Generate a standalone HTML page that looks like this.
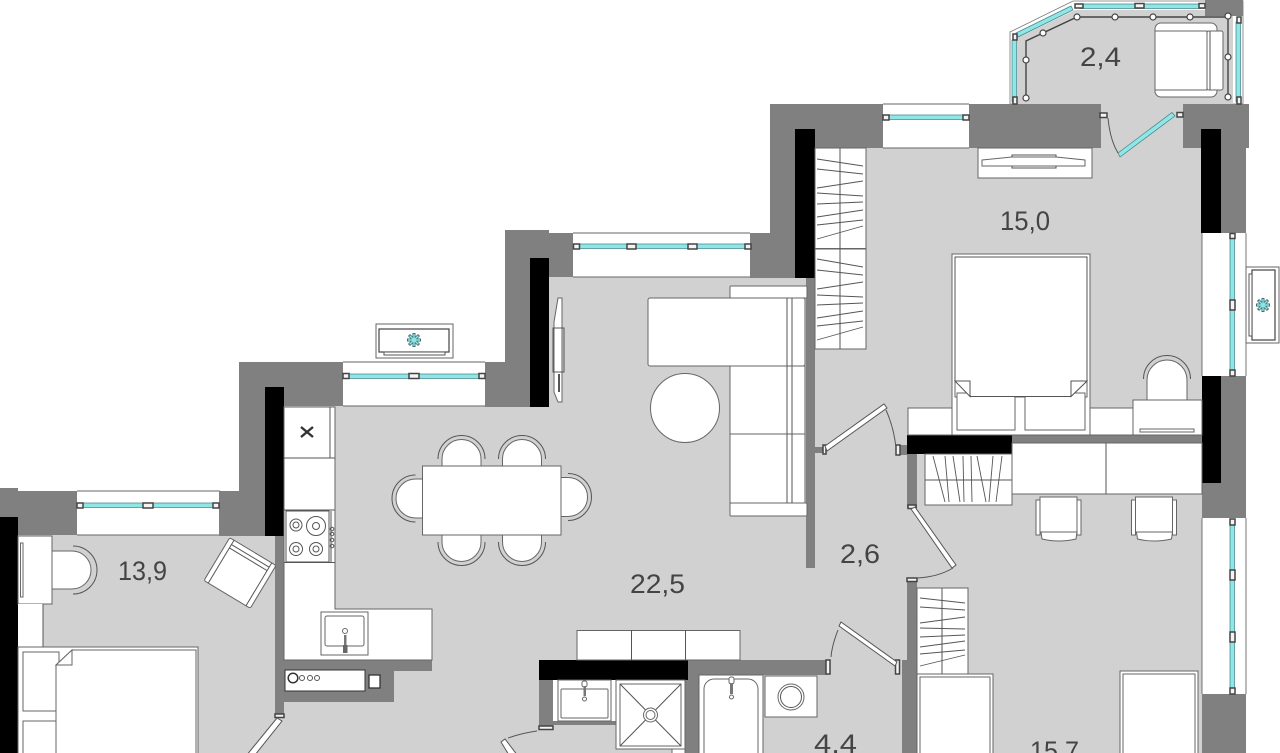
<!DOCTYPE html>
<html><head><meta charset="utf-8"><style>
html,body{margin:0;padding:0;background:#fff;width:1280px;height:753px;overflow:hidden}
svg{display:block}
text{font-family:"Liberation Sans",sans-serif;font-size:27px;fill:#444}
.f{fill:#fff;stroke:#666;stroke-width:1}
.g{fill:#808080}
.k{fill:#000}
.n{fill:none;stroke:#555;stroke-width:1}
.t{fill:#8fe6e6;stroke:#3f7f82;stroke-width:.7}
.h{fill:#f4f4f4;stroke:#444;stroke-width:1.5}
.d{fill:#fff;stroke:#555;stroke-width:1}
.tick{stroke:#555;stroke-width:.9;fill:none}
</style></head><body>
<svg width="1280" height="753" viewBox="0 0 1280 753" xmlns="http://www.w3.org/2000/svg">
<defs>
<g id="chair"><path class="f" d="M-19.5 0V-7a19.5 19.5 0 0 1 39 0V0Z"/><path class="n" d="M-23.5 -7a23.5 23.5 0 0 1 47 0"/></g>
<g id="flower"><g stroke="#3f6f72" stroke-width="3"><path d="M0-7V7M-7 0H7M-5-5L5 5M-5 5L5-5"/></g><g stroke="#8fe6e6" stroke-width="1.4"><path d="M0-6V6M-6 0H6M-4.3-4.3L4.3 4.3M-4.3 4.3L4.3-4.3"/></g></g>
<g id="dchair"><path class="f" d="M-23 3h4v35h-4zM18 3h4v35h-4z"/><path class="f" d="M-19 0H18V36H-19Z"/><path class="f" d="M-18 35H18L17 42Q0 46 -17 42Z"/></g>
<g id="wticks"><path class="tick" d="M817 159L863 166M817 169L863 174M817 188L863 181M817 193L863 196M817 204L863 202M817 217L863 210M817 225L863 220M817 239L863 226"/></g>
</defs>

<!-- floor -->
<path fill="#d1d1d1" d="M0 535H284V406H549V277H815V148H1202V753H0Z"/>
<!-- balcony floor -->
<path fill="#fff" stroke="#777" stroke-width=".8" d="M1010 104V32L1073 1H1243V104Z"/>
<path fill="#d1d1d1" d="M1017 104V38L1075 10H1233V104Z"/>
<rect x="1101" y="104" width="82" height="44" fill="#d1d1d1"/>

<!-- window whites -->
<g fill="#fff">
<rect x="77" y="491" width="143" height="44"/>
<rect x="343" y="362" width="142" height="44"/>
<rect x="573" y="233" width="177" height="44"/>
<rect x="883" y="104" width="86" height="44"/>
<rect x="1202" y="233" width="44" height="143"/>
<rect x="1202" y="518" width="44" height="176"/>
</g>
<path fill="none" stroke="#666" stroke-width=".9" d="M77 491H220M77 535H220M343 362H485M343 406H485M573 233H750M573 277H750M883 104H969M883 148H969M1202 233V376M1246 233V376M1202 518V694M1246 518V694"/>

<!-- walls -->
<g class="g">
<path d="M0 488H18V491H77V535H18V753H0Z"/>
<path d="M219 491H239V362H343V406H284V536H219Z"/>
<path d="M485 362H505V230H549V233H573V277H549V407H485Z"/>
<path d="M750 233H770V104H883V148H815V278H750Z"/>
<rect x="969" y="104" width="132" height="44"/>
<path d="M1183 104H1249V148H1246V233H1202V148H1183Z"/>
<path d="M1205 0H1243V16H1205Z"/>
<rect x="1202" y="376" width="44" height="142"/>
<rect x="1202" y="694" width="44" height="59"/>
<rect x="806" y="277" width="9" height="291"/>
<rect x="815" y="447" width="8" height="6"/>
<rect x="907" y="435" width="295" height="8"/>
<rect x="907" y="454" width="10" height="54"/>
<rect x="896" y="445" width="11" height="10"/>
<path d="M907 579H917V753H902V660H907Z"/>
<rect x="275" y="536" width="9" height="180"/>
<path d="M284 660H432V671H394V702H284Z"/>
<rect x="688" y="660" width="138" height="15"/>
<rect x="685" y="675" width="14" height="78"/>
<rect x="539" y="680" width="14" height="47"/>
<rect x="553" y="721" width="63" height="4"/>
</g>
<!-- black walls -->
<g class="k">
<rect x="0" y="517" width="18" height="236"/>
<rect x="265" y="387" width="19" height="149"/>
<rect x="530" y="258" width="19" height="149"/>
<rect x="795" y="129" width="20" height="149"/>
<rect x="1201" y="129" width="20" height="104"/>
<rect x="1202" y="376" width="19" height="107"/>
<rect x="907" y="435" width="105" height="19"/>
<rect x="539" y="660" width="149" height="20"/>
</g>

<!-- glazing -->
<g class="t">
<rect x="80" y="503" width="138" height="4.5"/>
<rect x="346" y="374" width="137" height="4.5"/>
<rect x="576" y="244" width="172" height="4.5"/>
<rect x="886" y="115" width="80" height="4.5"/>
<rect x="1230" y="236" width="4.5" height="138"/>
<rect x="1230" y="521" width="4.5" height="170"/>
<rect x="1012" y="40" width="4.5" height="62"/>
<path d="M1016 33L1071 6L1073 10L1018 37Z"/>
<rect x="1080" y="4" width="125" height="4.5"/>
<rect x="1236" y="22" width="4.5" height="80"/>
<path d="M1118 153L1172 112.500L1175 116L1120 157Z"/>
</g>
<g class="h">
<rect x="77" y="503" width="6" height="5"/><rect x="143" y="503" width="10" height="5"/><rect x="213" y="503" width="6" height="5"/>
<rect x="343" y="373.500" width="6" height="5"/><rect x="409" y="373.500" width="10" height="5"/><rect x="479" y="373.500" width="6" height="5"/>
<rect x="573.500" y="244" width="6" height="5"/><rect x="627" y="244" width="9" height="5"/><rect x="688" y="244" width="9" height="5"/><rect x="745" y="244" width="6" height="5"/>
<rect x="883" y="115" width="6" height="5"/><rect x="963" y="115" width="6" height="5"/>
<rect x="1230" y="233.500" width="5" height="5"/><rect x="1230" y="300" width="5" height="10"/><rect x="1230" y="370" width="5" height="6"/>
<rect x="1230" y="519" width="5" height="6"/><rect x="1230" y="570" width="5" height="10"/><rect x="1230" y="632" width="5" height="10"/><rect x="1230" y="688" width="5" height="6"/>
<rect x="1075" y="4" width="8" height="4"/><rect x="1135" y="3.500" width="9" height="4.500"/><rect x="1199" y="3.500" width="6" height="4.500"/>
<rect x="1013" y="34" width="4" height="6"/><rect x="1013" y="97" width="4" height="7"/><rect x="1237" y="17" width="4" height="6"/><rect x="1237" y="97" width="4" height="7"/>
<rect x="1100" y="113" width="7" height="4.500"/><rect x="1177" y="112.500" width="6" height="4.500"/><rect x="823" y="445" width="3" height="9"/>
<rect x="896" y="445" width="4" height="10"/>
<rect x="907" y="578" width="10" height="3.500"/><rect x="275" y="714" width="9" height="3.500"/>
<rect x="539" y="726" width="14" height="3.500"/><rect x="826" y="660" width="4" height="14"/><rect x="895.500" y="660" width="4" height="14"/>
<rect x="908" y="505" width="8" height="3.500"/>
</g>

<!-- balcony string lights -->
<path fill="none" stroke="#444" stroke-width="1.4" d="M1026 98V41L1077 17H1228V97"/>
<g fill="#fff" stroke="#444" stroke-width="1.2">
<circle cx="1026" cy="98" r="3"/><circle cx="1026" cy="60" r="3"/><circle cx="1043" cy="33" r="3"/><circle cx="1077" cy="17" r="3"/><circle cx="1115" cy="17" r="3"/><circle cx="1153" cy="17" r="3"/><circle cx="1190" cy="17" r="3"/><circle cx="1228" cy="16" r="3"/><circle cx="1228" cy="57" r="3"/><circle cx="1228" cy="97" r="3"/>
</g>
<!-- balcony armchair -->
<rect class="f" x="1155" y="23" width="62" height="74" rx="6"/>
<rect class="f" x="1207" y="31" width="16" height="59" rx="2"/>
<rect class="f" x="1155" y="31" width="52" height="59"/>
<path class="n" d="M1210 31V90"/>

<!-- doors -->
<path class="n" stroke-width=".8" d="M1108 118Q1110 140 1118 153"/>
<path class="n" d="M886 410Q894 428 896 448"/>
<path class="d" d="M825 446L884 404L887 408L827 451Z"/>
<path class="d" d="M911 509L915 507L956 565L952 568Z"/>
<path class="n" d="M917 578Q938 577 953 568"/>
<path class="d" d="M841 622L897 662L895 666L839 626Z"/>
<path class="n" d="M831 657Q832 645 838 630"/>
<path class="d" d="M277 718L282 721L251 760L246 756Z"/>
<path class="d" d="M501 742L505 739L518 756L512 760Z"/>
<path class="n" d="M508 738Q522 733 537 731"/>

<!-- top bedroom -->
<rect class="f" x="978" y="148" width="114" height="30"/>
<path class="f" d="M982 160L1012 157H1056L1085 160V166H982Z"/>
<path class="n" d="M1012 157V155H1056V157M1012 166V168H1056V166"/>
<rect class="f" x="815" y="148" width="51" height="100.500"/>
<rect class="f" x="815" y="249" width="51" height="100"/>
<path class="n" d="M840 148V349"/>
<use href="#wticks"/>
<path class="tick" d="M817 259L863 267M817 270L863 275M817 289L863 282M817 295L863 297M817 305L863 303M817 318L863 311M817 326L863 321M817 340L863 327"/>

<!-- bed -->
<rect class="f" x="908" y="408" width="44" height="27"/>
<rect class="f" x="1090" y="408" width="44" height="27"/>
<rect class="f" x="952" y="254" width="138" height="181"/>
<rect class="f" x="955" y="257" width="132" height="140" stroke-width=".6"/>
<rect class="f" x="957" y="393" width="58" height="37"/>
<rect class="f" x="1025" y="393" width="60" height="37"/>
<path fill="#fff" stroke="#555" d="M955 257H1087V381L1071 396.500H971L955 381Z"/>
<path fill="#fff" stroke="#555" d="M955 381H970V396.500ZM1087 381H1071V396.500Z"/>
<rect class="f" x="1133" y="400" width="69" height="35"/>
<rect class="f" x="1140" y="429" width="54" height="3"/>
<path class="f" d="M1147 400V380a20 20 0 0 1 40 0V400Z"/>
<path class="n" d="M1143.500 379a23.500 23.500 0 0 1 47 0"/>

<!-- desk and wardrobe -->
<rect class="f" x="925" y="454" width="87" height="51"/>
<path class="n" d="M925 480H1012"/>
<path class="tick" d="M933 456L945 502M945 456L949 502M953 456L960 502M963 456L964 502M971 456L972 502M977 456L986 502M993 456L989 502M1002 456L996 502"/>
<rect class="f" x="1012" y="443" width="190" height="51"/>
<path class="n" d="M1106 443V494"/>
<use href="#dchair" x="1059" y="497"/>
<use href="#dchair" x="1154.500" y="497"/>

<!-- AC right -->
<rect class="f" x="1246" y="267" width="33" height="76"/>
<rect x="1252" y="270" width="23" height="70" fill="#fff" stroke="#444" stroke-width="1.2"/>
<rect x="1249" y="274" width="3" height="62" fill="#fff" stroke="#555"/>
<use href="#flower" x="1263" y="305"/>
<!-- AC top -->
<rect class="f" x="376" y="324" width="77" height="34"/>
<rect x="379" y="329" width="70" height="23" fill="#fff" stroke="#444" stroke-width="1.2"/>
<rect x="384" y="352" width="61" height="3" fill="#fff" stroke="#555"/>
<use href="#flower" x="414" y="340"/>

<!-- TV living -->
<path class="f" d="M558 298H562V402H558L554 392V322Z"/>
<path class="n" d="M553 328V372H564V328Z"/>
<path stroke="#555" stroke-width="2" d="M559 374V392"/>

<!-- sofa -->
<rect class="f" x="730" y="286" width="77" height="12" rx="1"/>
<rect class="f" x="730" y="503" width="77" height="13" rx="1"/>
<rect class="f" x="648" y="298" width="157" height="68" rx="2"/>
<rect class="f" x="730" y="366" width="75" height="68"/>
<rect class="f" x="730" y="434" width="75" height="69"/>
<path class="n" d="M787 298V503M792 298V503"/>
<circle class="f" cx="685" cy="408" r="34.500"/>

<!-- table -->
<use href="#chair" transform="translate(461.500 466)"/>
<use href="#chair" transform="translate(522 466)"/>
<use href="#chair" transform="translate(461.500 535) rotate(180)"/>
<use href="#chair" transform="translate(522 535) rotate(180)"/>
<use href="#chair" transform="translate(422.500 498.500) rotate(-90)"/>
<use href="#chair" transform="translate(561 497) rotate(90)"/>
<rect class="f" x="422.500" y="466" width="138.500" height="69"/>

<!-- kitchen -->
<path class="f" d="M284 407H335V609H432V660H284Z"/>
<path class="n" d="M284 458H335M284 510H335M330 407V458M286 511H329V562H286ZM331 511V562M284 562.500H335"/>
<path stroke="#333" stroke-width="2.400" d="M301 427L313 437M313 427L301 437" fill="none"/>
<g class="n" stroke-width=".9">
<circle cx="296" cy="525" r="6"/><circle cx="296" cy="525" r="3"/>
<circle cx="316" cy="526" r="9.500"/><circle cx="316" cy="526" r="3.500"/>
<circle cx="296" cy="549" r="6.500"/><circle cx="296" cy="549" r="3"/>
<circle cx="316" cy="549" r="6.500"/><circle cx="316" cy="549" r="3"/>
<circle cx="332" cy="529" r="1.800"/><circle cx="332" cy="534" r="1.800"/><circle cx="332" cy="540" r="1.800"/><circle cx="332" cy="546" r="1.800"/>
</g>
<rect class="f" x="321" y="612" width="47" height="43"/>
<rect class="f" x="325" y="616" width="39" height="30" rx="2"/>
<circle class="f" cx="345" cy="631" r="2.500"/>
<rect x="344" y="635" width="2.500" height="18" fill="#777"/>
<rect x="343" y="645" width="4.500" height="8" fill="#666"/>
<rect x="285" y="670" width="80" height="21" fill="#fff" stroke="#333"/>
<circle cx="293" cy="678" r="4.800" fill="#fff" stroke="#333" stroke-width="1.500"/>
<g class="n"><circle cx="302" cy="678" r="2.500"/><circle cx="310" cy="678" r="2.500"/><circle cx="317" cy="678" r="2.500"/></g>
<rect x="369" y="675" width="11" height="13" fill="#fff" stroke="#333" stroke-width="1.300"/>

<!-- storage + bath -->
<rect class="f" x="577" y="630.500" width="163" height="29.500"/>
<path class="n" d="M631.500 630V660M685.500 630V660"/>
<rect x="553" y="680" width="63" height="41" fill="#fff"/>
<rect class="f" x="558" y="680" width="53" height="41"/>
<rect class="f" x="561" y="689" width="47" height="29" rx="1"/>
<rect class="f" x="582" y="681" width="5" height="6" rx="2"/>
<rect x="583.500" y="686" width="2.500" height="10" fill="#777"/>
<circle class="f" cx="584.500" cy="699" r="2"/>
<rect class="f" x="616" y="680" width="69" height="69"/>
<rect class="f" x="620" y="684" width="61" height="62"/>
<path class="n" d="M620 684L681 746M681 684L620 746"/>
<circle class="f" cx="650.500" cy="715" r="7"/>
<circle class="f" cx="650.500" cy="715" r="4.500"/>
<rect class="f" x="672" y="749" width="13" height="5"/>
<rect class="f" x="699" y="675" width="64" height="80"/>
<path class="f" d="M704 760V689a10 10 0 0 1 10-10H748a10 10 0 0 1 10 10V760Z"/>
<rect class="f" x="729" y="677" width="5" height="7" rx="2"/>
<rect x="730" y="683" width="3" height="11" fill="#777"/>
<circle class="f" cx="731.500" cy="697" r="2"/>
<rect class="f" x="765" y="676" width="52" height="41"/>
<circle class="f" cx="791" cy="697" r="13"/>
<circle class="n" cx="791" cy="697" r="10.500"/>

<!-- lower right -->
<rect class="f" x="917" y="588" width="51" height="87"/>
<path class="n" d="M942 588V675"/>
<path class="tick" d="M920 598L965 603M920 607L965 610M920 623L965 617M920 628L965 629M920 637L965 635M920 647L965 641M920 654L965 650M920 666L965 655"/>
<rect class="f" x="917" y="674" width="76" height="85"/>
<rect class="f" x="920" y="677" width="70" height="85"/>
<rect class="f" x="1120" y="671" width="78" height="88"/>
<rect class="f" x="1123" y="674" width="72" height="85"/>

<!-- left bedroom -->
<rect class="f" x="18" y="536" width="34" height="68"/>
<rect class="f" x="20.500" y="543" width="2.500" height="54"/>
<path class="f" d="M52 551H72a19 19 0 0 1 0 38H52Z"/>
<path class="n" d="M73 546a24 24 0 0 1 0 48"/>
<rect x="18" y="604" width="25" height="44" fill="#fff"/>
<path class="n" d="M43 604V647"/>
<rect x="18" y="647" width="180" height="110" fill="#fff" stroke="#666"/>
<rect class="f" x="23" y="652" width="36" height="59"/>
<rect class="f" x="23" y="721" width="36" height="40"/>
<path fill="#fff" stroke="#666" d="M56 665L72 650H196V760H56Z"/>
<path fill="#fff" stroke="#666" d="M72 650V665H56Z"/>
<g transform="translate(240 573) rotate(31)">
<rect class="f" x="-27" y="-25" width="54" height="50" rx="2"/>
<path class="n" d="M-22 -25V25M22 -25V25M-22 -16H22M-22 -20H22"/>
</g>

<!-- labels -->
<text x="1080" y="66" textLength="41" lengthAdjust="spacingAndGlyphs">2,4</text>
<text x="1000" y="230" textLength="50" lengthAdjust="spacingAndGlyphs">15,0</text>
<text x="630" y="593" textLength="55" lengthAdjust="spacingAndGlyphs">22,5</text>
<text x="840" y="563" textLength="40" lengthAdjust="spacingAndGlyphs">2,6</text>
<text x="118" y="580" textLength="49" lengthAdjust="spacingAndGlyphs">13,9</text>
<text x="814" y="753" textLength="43" lengthAdjust="spacingAndGlyphs">4,4</text>
<text x="1030" y="760" textLength="49" lengthAdjust="spacingAndGlyphs">15,7</text>
</svg>
</body></html>
